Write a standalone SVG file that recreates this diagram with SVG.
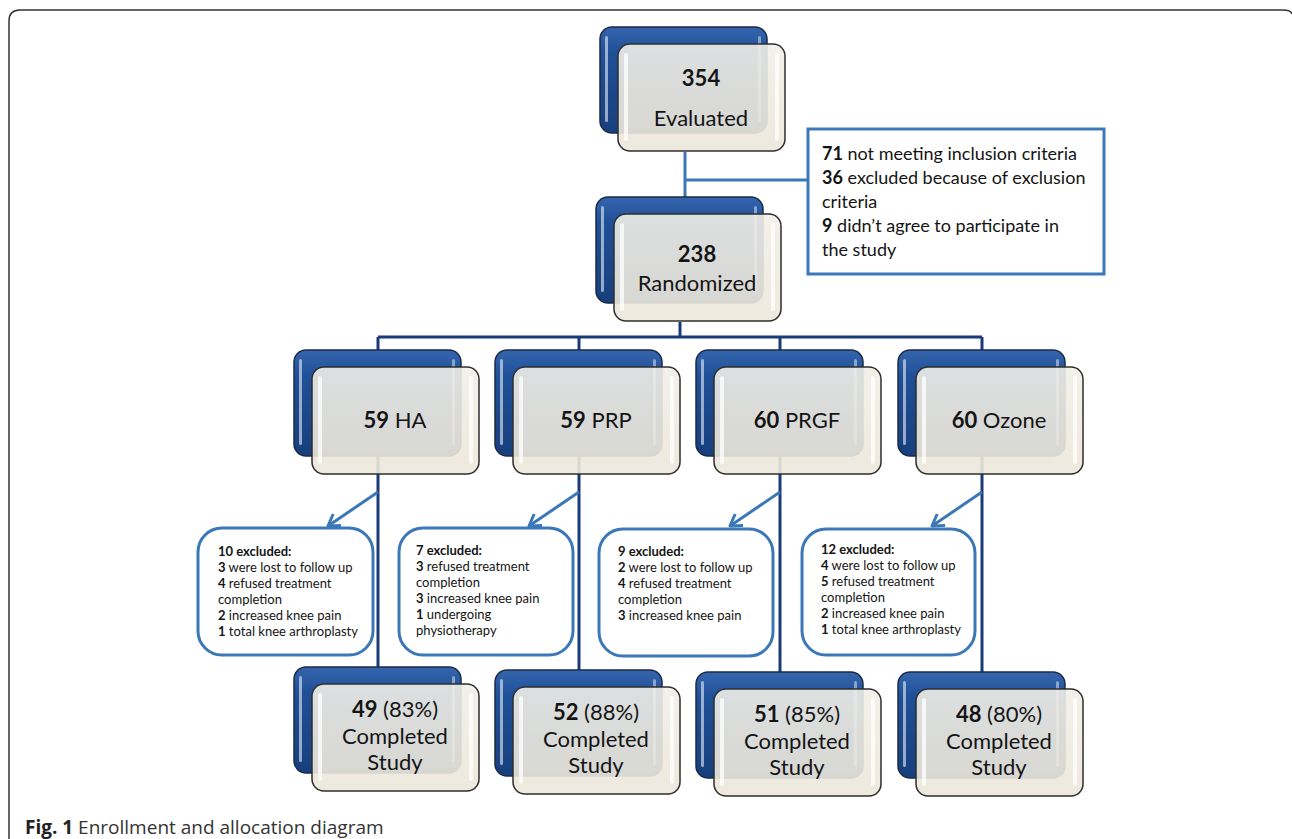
<svg xmlns="http://www.w3.org/2000/svg" xmlns:xlink="http://www.w3.org/1999/xlink" width="1292" height="839" viewBox="0 0 1292 839">
<defs>
<linearGradient id="blueG" x1="0" y1="0" x2="0" y2="1">
<stop offset="0" stop-color="#3566ad"/>
<stop offset="0.25" stop-color="#1f4f96"/>
<stop offset="1" stop-color="#173f7d"/>
</linearGradient>
<linearGradient id="creamG" x1="0" y1="0" x2="0" y2="1">
<stop offset="0" stop-color="#f1efe8"/>
<stop offset="1" stop-color="#ece7da"/>
</linearGradient>
<marker id="chev" markerWidth="16" markerHeight="16" refX="12" refY="8" orient="auto" markerUnits="userSpaceOnUse">
<path d="M1,1 L12,8 L1,15" fill="none" stroke="#3c78b8" stroke-width="3" stroke-linejoin="round"/>
</marker>
<g id="card">
<rect x="0" y="0" width="167" height="106" rx="12" fill="url(#blueG)" stroke="#1b2b45" stroke-width="1.5"/>
<rect x="5" y="9" width="3" height="86" rx="1.5" fill="#ffffff" opacity="0.55"/>
<rect x="158" y="9" width="3" height="86" rx="1.5" fill="#ffffff" opacity="0.45"/>
<rect x="18" y="17" width="167" height="107" rx="12" fill="url(#creamG)" fill-opacity="0.9" stroke="#2e2e2e" stroke-width="1.5"/>
<rect x="24" y="26" width="4" height="88" rx="2" fill="#ffffff" opacity="0.75"/>
<rect x="175" y="26" width="4" height="88" rx="2" fill="#ffffff" opacity="0.75"/>
</g>
<style>
.t{font-family:Lato,"Open Sans",sans-serif;fill:#141414;}
.big{font-size:22px;text-anchor:middle;}
.b{font-weight:bold;}
.ex{font-size:18px;}
.sm{font-size:13px;}
.sbox{fill:#ffffff;stroke:#3c78b8;stroke-width:3;}
.navy{stroke:#1b3a78;stroke-width:3;fill:none;}
.lblue{stroke:#3c78b8;stroke-width:3;fill:none;}
.cap{font-family:"Open Sans","Noto Sans",sans-serif;font-size:19px;fill:#333333;}
</style>
</defs>
<rect x="0" y="0" width="1292" height="839" fill="#ffffff"/>
<path d="M9,839 L9,21 Q9,10 20,10 L1283,10 Q1291,10 1292,14" fill="none" stroke="#333333" stroke-width="1.5"/>

<g id="connectors">
<path class="lblue" d="M685,152 L685,215 M685,180 L808,180"/>
<path class="navy" d="M680,322 L680,337 M378,337 L982,337 M378,337 L378,667 M579,337 L579,670 M780,337 L780,672 M982,337 L982,672"/>
<line class="lblue" x1="378" y1="492" x2="328" y2="526" marker-end="url(#chev)"/>
<line class="lblue" x1="579" y1="492" x2="529" y2="526" marker-end="url(#chev)"/>
<line class="lblue" x1="780" y1="492" x2="730" y2="526" marker-end="url(#chev)"/>
<line class="lblue" x1="982" y1="492" x2="932" y2="526" marker-end="url(#chev)"/>
</g>

<g id="evaluated">
<use xlink:href="#card" x="600" y="27"/>
<text class="t big b" x="701" y="86">354</text>
<text class="t big" x="701" y="126">Evaluated</text>
</g>

<g id="exclusion">
<rect x="808" y="129" width="296" height="145" fill="#ffffff" stroke="#3c78b8" stroke-width="3"/>
<text class="t ex" x="822" y="160"><tspan class="b">71</tspan> not meeting inclusion criteria</text>
<text class="t ex" x="822" y="184"><tspan class="b">36</tspan> excluded because of exclusion</text>
<text class="t ex" x="822" y="208">criteria</text>
<text class="t ex" x="822" y="232"><tspan class="b">9</tspan> didn’t agree to participate in</text>
<text class="t ex" x="822" y="256">the study</text>
</g>

<g id="randomized">
<use xlink:href="#card" x="596" y="197"/>
<text class="t big b" x="697" y="262">238</text>
<text class="t big" x="697" y="291">Randomized</text>
</g>

<g id="ha">
<use xlink:href="#card" x="294" y="350"/>
<text class="t big" x="395" y="428"><tspan class="b">59</tspan> HA</text>
</g>
<g id="prp">
<use xlink:href="#card" x="495" y="350"/>
<text class="t big" x="596" y="428"><tspan class="b">59</tspan> PRP</text>
</g>
<g id="prgf">
<use xlink:href="#card" x="696" y="350"/>
<text class="t big" x="797" y="428"><tspan class="b">60</tspan> PRGF</text>
</g>
<g id="ozone">
<use xlink:href="#card" x="898" y="350"/>
<text class="t big" x="999" y="428"><tspan class="b">60</tspan> Ozone</text>
</g>

<g id="ha-excluded">
<rect class="sbox" x="198" y="528" width="175" height="127" rx="24"/>
<text class="t sm" x="218" y="556"><tspan class="b">10 excluded:</tspan></text>
<text class="t sm" x="218" y="572"><tspan class="b">3</tspan> were lost to follow up</text>
<text class="t sm" x="218" y="588"><tspan class="b">4</tspan> refused treatment</text>
<text class="t sm" x="218" y="604">completion</text>
<text class="t sm" x="218" y="620"><tspan class="b">2</tspan> increased knee pain</text>
<text class="t sm" x="218" y="636"><tspan class="b">1</tspan> total knee arthroplasty</text>
</g>
<g id="prp-excluded">
<rect class="sbox" x="399" y="528" width="174" height="127" rx="24"/>
<text class="t sm" x="416" y="555"><tspan class="b">7 excluded:</tspan></text>
<text class="t sm" x="416" y="571"><tspan class="b">3</tspan> refused treatment</text>
<text class="t sm" x="416" y="587">completion</text>
<text class="t sm" x="416" y="603"><tspan class="b">3</tspan> increased knee pain</text>
<text class="t sm" x="416" y="619"><tspan class="b">1</tspan> undergoing</text>
<text class="t sm" x="416" y="635">physiotherapy</text>
</g>
<g id="prgf-excluded">
<rect class="sbox" x="599" y="529" width="174" height="127" rx="24"/>
<text class="t sm" x="618" y="556"><tspan class="b">9 excluded:</tspan></text>
<text class="t sm" x="618" y="572"><tspan class="b">2</tspan> were lost to follow up</text>
<text class="t sm" x="618" y="588"><tspan class="b">4</tspan> refused treatment</text>
<text class="t sm" x="618" y="604">completion</text>
<text class="t sm" x="618" y="620"><tspan class="b">3</tspan> increased knee pain</text>
</g>
<g id="ozone-excluded">
<rect class="sbox" x="802" y="529" width="173" height="126" rx="24"/>
<text class="t sm" x="821" y="554"><tspan class="b">12 excluded:</tspan></text>
<text class="t sm" x="821" y="570"><tspan class="b">4</tspan> were lost to follow up</text>
<text class="t sm" x="821" y="586"><tspan class="b">5</tspan> refused treatment</text>
<text class="t sm" x="821" y="602">completion</text>
<text class="t sm" x="821" y="618"><tspan class="b">2</tspan> increased knee pain</text>
<text class="t sm" x="821" y="634"><tspan class="b">1</tspan> total knee arthroplasty</text>
</g>

<g id="ha-completed">
<use xlink:href="#card" x="294" y="667"/>
<text class="t big" x="395" y="717"><tspan class="b">49</tspan> (83%)</text>
<text class="t big" x="395" y="744">Completed</text>
<text class="t big" x="395" y="770">Study</text>
</g>
<g id="prp-completed">
<use xlink:href="#card" x="495" y="670"/>
<text class="t big" x="596" y="720"><tspan class="b">52</tspan> (88%)</text>
<text class="t big" x="596" y="747">Completed</text>
<text class="t big" x="596" y="773">Study</text>
</g>
<g id="prgf-completed">
<use xlink:href="#card" x="696" y="672"/>
<text class="t big" x="797" y="722"><tspan class="b">51</tspan> (85%)</text>
<text class="t big" x="797" y="749">Completed</text>
<text class="t big" x="797" y="775">Study</text>
</g>
<g id="ozone-completed">
<use xlink:href="#card" x="898" y="672"/>
<text class="t big" x="999" y="722"><tspan class="b">48</tspan> (80%)</text>
<text class="t big" x="999" y="749">Completed</text>
<text class="t big" x="999" y="775">Study</text>
</g>

<text class="cap" x="25" y="834"><tspan font-weight="bold" fill="#222222">Fig. 1</tspan> Enrollment and allocation diagram</text>
</svg>
